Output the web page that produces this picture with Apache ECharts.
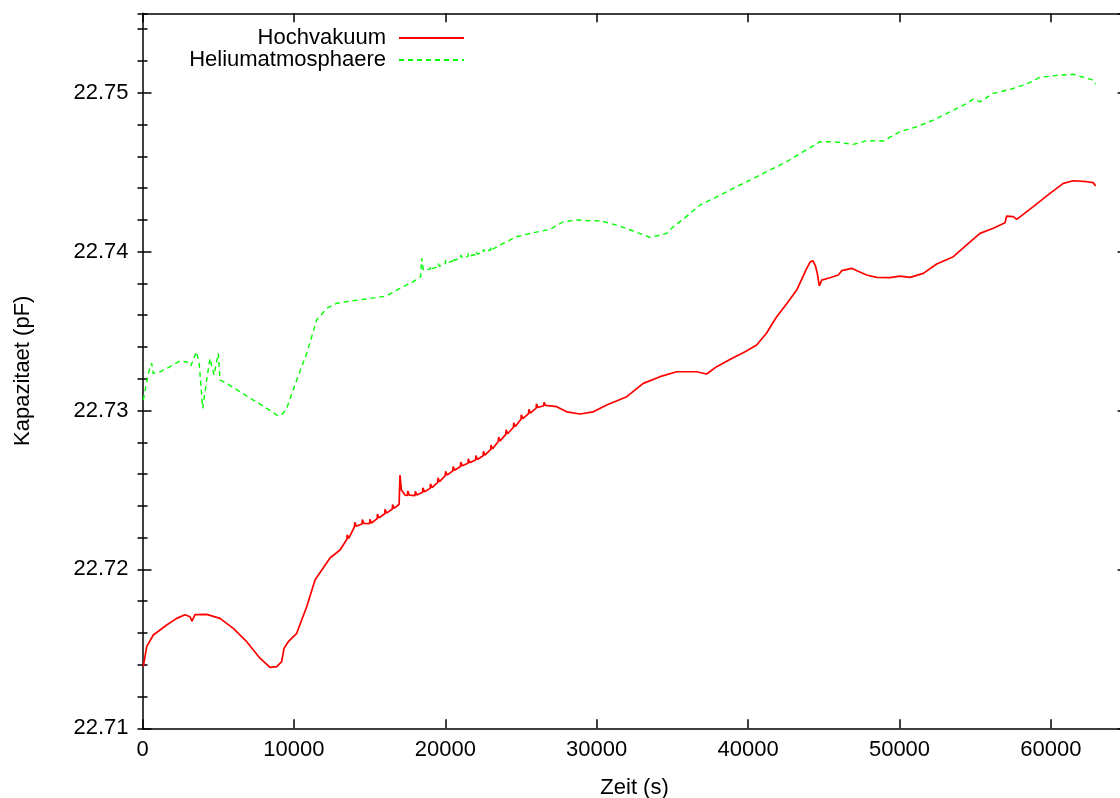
<!DOCTYPE html>
<html>
<head>
<meta charset="utf-8">
<script src="https://cdn.jsdelivr.net/npm/echarts@6/dist/echarts.min.js"></script>
<style>html,body{margin:0;padding:0;background:#fff}#c{width:1120px;height:798px}</style>
</head>
<body>
<div id="c"></div>
<script>
// ---- data (time in s, capacitance in pF) ----
const seriesNames = ['Hochvakuum', 'Heliumatmosphaere'];
const xAxisName = 'Zeit (s)';
const yAxisName = 'Kapazitaet (pF)';

const hochvakuum = [
 [53,22.71388],[277,22.71514],[713,22.71587],[1598,22.71650],[2259,22.71692],[2807,22.71715],[3137,22.71702],[3270,22.71675],[3468,22.71715],[4240,22.71717],[5119,22.71692],[5997,22.71629],[6882,22.71545],[7761,22.71441],[8421,22.71384],[8864,22.71388],[9194,22.71419],[9346,22.71503],[9630,22.71545],[10185,22.71598],[10846,22.71765],[11394,22.71933],[12384,22.72072],[13045,22.72122],
 [13500,22.72190],[13520,22.72218],[13620,22.72195],[14000,22.72268],[14020,22.72296],[14120,22.72272],[14500,22.72286],[14520,22.72314],[14620,22.72290],[15000,22.72288],[15020,22.72316],[15120,22.72292],[15500,22.72320],[15520,22.72348],[15620,22.72324],[16000,22.72350],[16020,22.72378],[16120,22.72354],[16500,22.72380],[16520,22.72408],[16620,22.72384],[16950,22.72410],[17008,22.72594],[17100,22.72500],[17338,22.72468],
 [17500,22.72466],[17520,22.72494],[17620,22.72468],[18000,22.72464],[18020,22.72492],[18120,22.72468],[18500,22.72485],[18520,22.72513],[18620,22.72489],[19000,22.72510],[19020,22.72538],[19120,22.72514],[19500,22.72548],[19520,22.72576],[19620,22.72552],[20000,22.72590],[20020,22.72618],[20120,22.72594],[20500,22.72620],[20520,22.72648],[20620,22.72624],[21000,22.72648],[21020,22.72676],[21120,22.72652],[21500,22.72668],[21520,22.72696],[21620,22.72672],[22000,22.72688],[22020,22.72716],[22120,22.72692],[22500,22.72715],[22520,22.72743],[22620,22.72719],[23000,22.72755],[23020,22.72783],[23120,22.72759],[23500,22.72805],[23520,22.72833],[23620,22.72809],[24000,22.72850],[24020,22.72878],[24120,22.72854],[24500,22.72895],[24520,22.72923],[24620,22.72899],[25000,22.72945],[25020,22.72973],[25120,22.72949],[25500,22.72980],[25520,22.73008],[25620,22.72984],[26000,22.73015],[26020,22.73043],[26120,22.73019],[26500,22.73030],[26520,22.73052],[26620,22.73032],
 [27358,22.73024],[28018,22.72992],[28897,22.72978],[29776,22.72992],[30661,22.73035],[31982,22.73087],[33078,22.73171],[34181,22.73213],[35284,22.73244],[36605,22.73244],[37266,22.73230],[37926,22.73276],[38917,22.73328],[39800,22.73370],[40568,22.73412],[41200,22.73485],[41889,22.73590],[42550,22.73672],[43210,22.73758],[43871,22.73895],[44100,22.73935],[44267,22.73943],[44450,22.73910],[44571,22.73863],[44703,22.73784],[44861,22.73821],[45400,22.73836],[45958,22.73853],[46182,22.73880],[46843,22.73895],[47300,22.73875],[47833,22.73853],[48494,22.73838],[49372,22.73836],[50033,22.73846],[50693,22.73838],[51572,22.73863],[52457,22.73922],[53553,22.73968],[54438,22.74042],[55317,22.74115],[56195,22.74147],[56968,22.74182],[57080,22.74224],[57516,22.74220],[57741,22.74203],[58837,22.74283],[59940,22.74367],[60818,22.74430],[61479,22.74446],[62364,22.74440],[62800,22.74434],[62958,22.74413]
];

const heliumatmosphaere = [
 [53,22.73066],[383,22.73234],[608,22.73297],[713,22.73234],[1156,22.73244],[1816,22.73276],[2477,22.73312],[2919,22.73307],[3184,22.73280],[3580,22.73370],[3752,22.73286],[3976,22.73014],[4240,22.73192],[4458,22.73328],[4723,22.73223],[5007,22.73360],[5119,22.73192],[5561,22.73171],[6440,22.73118],[7318,22.73066],[8203,22.73014],[8864,22.72972],[9194,22.72972],[9524,22.73014],[10185,22.73192],[10846,22.73360],[11506,22.73570],[12166,22.73643],[12827,22.73675],[13705,22.73689],[14809,22.73702],[16130,22.73721],[17008,22.73769],[17886,22.73811],[18375,22.73842],[18441,22.73958],[18547,22.73884],
 [19000,22.73890],[19020,22.73910],[19120,22.73893],[19500,22.73905],[19520,22.73925],[19620,22.73908],[20000,22.73925],[20020,22.73945],[20120,22.73928],[20500,22.73942],[20520,22.73962],[20620,22.73945],[21000,22.73958],[21020,22.73978],[21120,22.73961],[21500,22.73970],[21520,22.73990],[21620,22.73973],[22000,22.73982],[22020,22.74002],[22120,22.73985],[22500,22.73995],[22520,22.74015],[22620,22.73998],[23000,22.74012],[23020,22.74032],[23120,22.74015],
 [23613,22.74042],[24716,22.74094],[25812,22.74119],[26915,22.74140],[27794,22.74188],[28679,22.74199],[29776,22.74193],[30219,22.74195],[31321,22.74167],[32418,22.74130],[33521,22.74090],[34181,22.74104],[34623,22.74115],[35059,22.74157],[35720,22.74205],[36823,22.74293],[37926,22.74345],[39022,22.74398],[40568,22.74471],[41665,22.74524],[42550,22.74566],[43646,22.74629],[44749,22.74692],[45628,22.74692],[46949,22.74675],[47833,22.74698],[48930,22.74696],[50033,22.74755],[51136,22.74786],[52232,22.74828],[53335,22.74880],[54438,22.74933],[54874,22.74960],[55317,22.74943],[56195,22.74996],[57298,22.75021],[58401,22.75055],[59280,22.75097],[60601,22.75111],[61479,22.75116],[62364,22.75091],[62800,22.75080],[62958,22.75055]
];

const xMin = 0, xMax = 65000, xStep = 10000;
const yMin = 22.71, yMax = 22.755, yStep = 0.01, yMinorStep = 0.002;

// ---- chart ----
const FONT = 'Liberation Sans';
const black = '#000';
const chart = echarts.init(document.getElementById('c'), null, {renderer: 'canvas'});

const lineAx = {show: true, onZero: false, lineStyle: {color: black, width: 1.5}};
const tickMajor = {show: true, inside: true, length: 9, lineStyle: {color: black, width: 1.5}};
const tickMinor = {show: true, inside: true, length: 5, lineStyle: {color: black, width: 1.5}};

function xAx(pos, labels) {
  return {
    type: 'value', position: pos, min: xMin, max: xMax, interval: xStep,
    axisLine: lineAx, axisTick: tickMajor, splitLine: {show: false},
    axisLabel: labels ? {show: true, fontSize: 22, fontFamily: FONT, color: black, margin: 11, showMaxLabel: false,
      formatter: v => String(Math.round(v))} : {show: false},
    name: labels ? xAxisName : '', nameLocation: 'middle', nameGap: 49,
    nameTextStyle: {fontSize: 22, fontFamily: FONT, color: black}
  };
}
function yAx(pos, step, labels, showLine, tick) {
  return {
    type: 'value', position: pos, min: yMin, max: yMax, interval: step,
    axisLine: showLine ? lineAx : {show: false}, axisTick: tick, splitLine: {show: false},
    axisLabel: labels ? {show: true, fontSize: 22, fontFamily: FONT, color: black, margin: 14, showMaxLabel: false,
      formatter: v => v.toFixed(2)} : {show: false},
    name: labels ? yAxisName : '', nameLocation: 'middle', nameGap: 109,
    nameTextStyle: {fontSize: 22, fontFamily: FONT, color: black}
  };
}

const legendBase = {
  orient: 'vertical', align: 'right', right: 655, padding: 0,
  itemWidth: 65, itemHeight: 14,
  itemStyle: {opacity: 0},
  textStyle: {fontSize: 22, fontFamily: FONT, color: black, padding: [0, 8, 0, 0]}
};

chart.setOption({
  animation: false,
  backgroundColor: '#fff',
  grid: {left: 142.5, top: 13.3, right: -6.6, bottom: 69.7, containLabel: false, outerBoundsMode: 'none'},
  legend: [
    Object.assign({}, legendBase, {data: [seriesNames[0]], top: 27}),
    Object.assign({}, legendBase, {data: [seriesNames[1]], top: 49})
  ],
  xAxis: [xAx('bottom', true), xAx('top', false)],
  yAxis: [
    yAx('left', yStep, true, true, tickMajor),
    yAx('left', yMinorStep, false, false, tickMinor),
    yAx('right', yStep, false, true, tickMajor),
    yAx('right', yMinorStep, false, false, tickMinor)
  ],
  series: [
    {name: seriesNames[0], type: 'line', data: hochvakuum, symbol: 'none', showSymbol: false,
     xAxisIndex: 0, yAxisIndex: 0,
     lineStyle: {color: '#ff0000', width: 1.7}, itemStyle: {color: '#ff0000'}},
    {name: seriesNames[1], type: 'line', data: heliumatmosphaere, symbol: 'none', showSymbol: false,
     xAxisIndex: 0, yAxisIndex: 0,
     lineStyle: {color: '#00ff00', width: 1.4, type: [5, 4]}, itemStyle: {color: '#00ff00'}}
  ]
});
</script>
</body>
</html>
